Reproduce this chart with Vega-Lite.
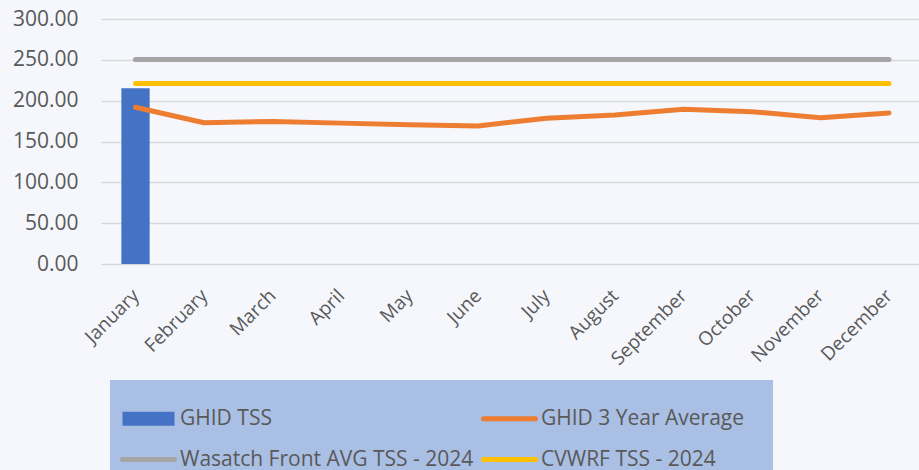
{
  "$schema": "https://vega.github.io/schema/vega-lite/v6.json",
  "width": 818,
  "height": 245,
  "autosize": {"type": "none"},
  "padding": {"left": 101, "top": 19, "right": 0, "bottom": 206},
  "background": "#F5F7FC",
  "data": {
    "values": [
      {"month": "January", "series": "GHID TSS", "value": 215.2},
      {"month": "January", "series": "GHID 3 Year Average", "value": 192},
      {"month": "February", "series": "GHID 3 Year Average", "value": 173},
      {"month": "March", "series": "GHID 3 Year Average", "value": 174.5},
      {"month": "April", "series": "GHID 3 Year Average", "value": 172.5},
      {"month": "May", "series": "GHID 3 Year Average", "value": 170.5},
      {"month": "June", "series": "GHID 3 Year Average", "value": 169},
      {"month": "July", "series": "GHID 3 Year Average", "value": 178.5},
      {"month": "August", "series": "GHID 3 Year Average", "value": 182.5},
      {"month": "September", "series": "GHID 3 Year Average", "value": 189.5},
      {"month": "October", "series": "GHID 3 Year Average", "value": 186.5},
      {"month": "November", "series": "GHID 3 Year Average", "value": 179},
      {"month": "December", "series": "GHID 3 Year Average", "value": 185},
      {"month": "January", "series": "Wasatch Front AVG TSS - 2024", "value": 250.5},
      {"month": "February", "series": "Wasatch Front AVG TSS - 2024", "value": 250.5},
      {"month": "March", "series": "Wasatch Front AVG TSS - 2024", "value": 250.5},
      {"month": "April", "series": "Wasatch Front AVG TSS - 2024", "value": 250.5},
      {"month": "May", "series": "Wasatch Front AVG TSS - 2024", "value": 250.5},
      {"month": "June", "series": "Wasatch Front AVG TSS - 2024", "value": 250.5},
      {"month": "July", "series": "Wasatch Front AVG TSS - 2024", "value": 250.5},
      {"month": "August", "series": "Wasatch Front AVG TSS - 2024", "value": 250.5},
      {"month": "September", "series": "Wasatch Front AVG TSS - 2024", "value": 250.5},
      {"month": "October", "series": "Wasatch Front AVG TSS - 2024", "value": 250.5},
      {"month": "November", "series": "Wasatch Front AVG TSS - 2024", "value": 250.5},
      {"month": "December", "series": "Wasatch Front AVG TSS - 2024", "value": 250.5},
      {"month": "January", "series": "CVWRF TSS - 2024", "value": 221},
      {"month": "February", "series": "CVWRF TSS - 2024", "value": 221},
      {"month": "March", "series": "CVWRF TSS - 2024", "value": 221},
      {"month": "April", "series": "CVWRF TSS - 2024", "value": 221},
      {"month": "May", "series": "CVWRF TSS - 2024", "value": 221},
      {"month": "June", "series": "CVWRF TSS - 2024", "value": 221},
      {"month": "July", "series": "CVWRF TSS - 2024", "value": 221},
      {"month": "August", "series": "CVWRF TSS - 2024", "value": 221},
      {"month": "September", "series": "CVWRF TSS - 2024", "value": 221},
      {"month": "October", "series": "CVWRF TSS - 2024", "value": 221},
      {"month": "November", "series": "CVWRF TSS - 2024", "value": 221},
      {"month": "December", "series": "CVWRF TSS - 2024", "value": 221}
    ]
  },
  "encoding": {
    "x": {
      "field": "month",
      "type": "nominal",
      "scale": {
        "domain": ["January", "February", "March", "April", "May", "June", "July", "August", "September", "October", "November", "December"],
        "paddingInner": 0.587,
        "paddingOuter": 0.2645,
        "align": 0.562
      },
      "axis": {
        "title": null,
        "domain": false,
        "ticks": false,
        "labelAngle": -45,
        "labelColor": "#595959",
        "labelFont": "Open Sans",
        "labelFontSize": 19,
        "labelPadding": 22,
        "labelOffset": -6
      }
    },
    "y": {
      "field": "value",
      "type": "quantitative",
      "scale": {"domain": [0, 300], "nice": false},
      "axis": {
        "title": null,
        "domain": false,
        "ticks": false,
        "values": [0, 50, 100, 150, 200, 250, 300],
        "format": ".2f",
        "grid": true,
        "gridColor": "#D9D9D9",
        "gridWidth": 1.3,
        "labelColor": "#595959",
        "labelFont": "Open Sans",
        "labelFontSize": 21,
        "labelPadding": 23
      }
    },
    "color": {
      "field": "series",
      "type": "nominal",
      "scale": {
        "domain": ["GHID TSS", "GHID 3 Year Average", "Wasatch Front AVG TSS - 2024", "CVWRF TSS - 2024"],
        "range": ["#4472C4", "#ED7D31", "#A5A5A5", "#FFC000"]
      },
      "legend": {
        "title": null,
        "orient": "none",
        "direction": "horizontal",
        "legendX": 9,
        "legendY": 361,
        "columns": 2,
        "padding": 28,
        "fillColor": "#AABFE4",
        "symbolType": "stroke",
        "symbolSize": 2704,
        "symbolStrokeWidth": 5,
        "labelFont": "Open Sans",
        "labelFontSize": 21,
        "labelColor": "#595959",
        "labelOffset": 21,
        "labelLimit": 400,
        "rowPadding": 19,
        "columnPadding": -1,
        "encode": {
          "symbols": {
            "update": {
              "shape": {"signal": "datum.value === 'GHID TSS' ? 'M-1,-0.27H1V0.27H-1Z' : 'stroke'"},
              "stroke": {"scale": "color", "field": "value"},
              "fill": {"signal": "datum.value === 'GHID TSS' ? scale('color', datum.value) : 'transparent'"},
              "strokeWidth": {"signal": "datum.value === 'GHID TSS' ? 0 : 5"},
              "strokeCap": {"value": "round"},
              "opacity": {"value": 1}
            }
          }
        }
      }
    }
  },
  "layer": [
    {
      "transform": [{"filter": "datum.series === 'GHID TSS'"}],
      "mark": {"type": "bar"}
    },
    {
      "transform": [{"filter": "datum.series !== 'GHID TSS'"}],
      "mark": {"type": "line", "strokeWidth": 5, "strokeCap": "round", "strokeJoin": "round"}
    }
  ],
  "config": {"view": {"stroke": null}, "font": "Open Sans"}
}
